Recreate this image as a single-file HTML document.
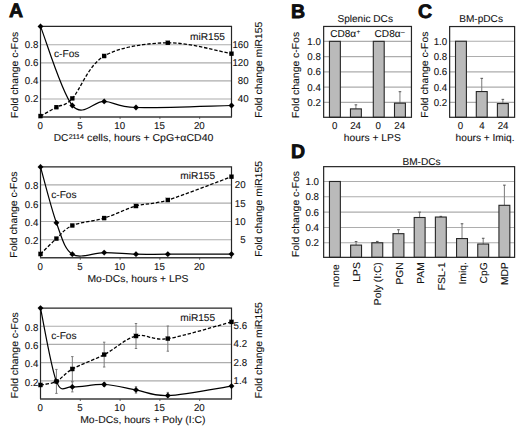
<!DOCTYPE html>
<html><head><meta charset="utf-8"><style>html,body{margin:0;padding:0;background:#fff;width:520px;height:430px;overflow:hidden;}svg{display:block;}</style></head><body>
<svg width="520" height="430" viewBox="0 0 520 430">
<rect width="520" height="430" fill="#fff"/>
<g font-family="'Liberation Sans', sans-serif" text-rendering="geometricPrecision" fill="#111" stroke="#111" stroke-width="0.1">
<text x="8.9" y="17.2" font-size="19.5" text-anchor="start" font-weight="bold" stroke="#000" stroke-width="0.75">A</text>
<text x="290.9" y="18.3" font-size="19.5" text-anchor="start" font-weight="bold" stroke="#000" stroke-width="0.75">B</text>
<text x="417.9" y="18.3" font-size="19.5" text-anchor="start" font-weight="bold" stroke="#000" stroke-width="0.75">C</text>
<text x="290.9" y="158.3" font-size="19.5" text-anchor="start" font-weight="bold" stroke="#000" stroke-width="0.75">D</text>
<line x1="40.5" y1="44.77" x2="231.5" y2="44.77" stroke="#5a5a5a" stroke-width="1.1" stroke-dasharray="1 1"/>
<line x1="40.5" y1="62.84" x2="231.5" y2="62.84" stroke="#5a5a5a" stroke-width="1.1" stroke-dasharray="1 1"/>
<line x1="40.5" y1="80.91" x2="231.5" y2="80.91" stroke="#5a5a5a" stroke-width="1.1" stroke-dasharray="1 1"/>
<line x1="40.5" y1="98.98" x2="231.5" y2="98.98" stroke="#5a5a5a" stroke-width="1.1" stroke-dasharray="1 1"/>
<path d="M40.5 116.9V26.4H231.5V116.9" fill="none" stroke="#262626" stroke-width="1.2"/>
<line x1="40" y1="116.9" x2="232" y2="116.9" stroke="#3a3a3a" stroke-width="1.5"/>
<line x1="80.29" y1="116.9" x2="80.29" y2="118.9" stroke="#3a3a3a" stroke-width="0.8"/>
<line x1="120.08" y1="116.9" x2="120.08" y2="118.9" stroke="#3a3a3a" stroke-width="0.8"/>
<line x1="159.88" y1="116.9" x2="159.88" y2="118.9" stroke="#3a3a3a" stroke-width="0.8"/>
<line x1="199.67" y1="116.9" x2="199.67" y2="118.9" stroke="#3a3a3a" stroke-width="0.8"/>
<text x="40.1" y="129" font-size="10" text-anchor="middle" textLength="5.39" lengthAdjust="spacingAndGlyphs">0</text>
<text x="79.89" y="129" font-size="10" text-anchor="middle" textLength="5.39" lengthAdjust="spacingAndGlyphs">5</text>
<text x="119.68" y="129" font-size="10" text-anchor="middle" textLength="10.79" lengthAdjust="spacingAndGlyphs">10</text>
<text x="159.47" y="129" font-size="10" text-anchor="middle" textLength="10.79" lengthAdjust="spacingAndGlyphs">15</text>
<text x="199.27" y="129" font-size="10" text-anchor="middle" textLength="10.79" lengthAdjust="spacingAndGlyphs">20</text>
<text x="38.3" y="48.17" font-size="10" text-anchor="end" textLength="13.48" lengthAdjust="spacingAndGlyphs">0.8</text>
<text x="38.3" y="66.24" font-size="10" text-anchor="end" textLength="13.48" lengthAdjust="spacingAndGlyphs">0.6</text>
<text x="38.3" y="84.31" font-size="10" text-anchor="end" textLength="13.48" lengthAdjust="spacingAndGlyphs">0.4</text>
<text x="38.3" y="102.38" font-size="10" text-anchor="end" textLength="13.48" lengthAdjust="spacingAndGlyphs">0.2</text>
<text x="248.6" y="48.17" font-size="10" text-anchor="end" textLength="16.18" lengthAdjust="spacingAndGlyphs">160</text>
<text x="248.6" y="66.24" font-size="10" text-anchor="end" textLength="16.18" lengthAdjust="spacingAndGlyphs">120</text>
<text x="248.6" y="84.31" font-size="10" text-anchor="end" textLength="10.79" lengthAdjust="spacingAndGlyphs">80</text>
<text x="248.6" y="102.38" font-size="10" text-anchor="end" textLength="10.79" lengthAdjust="spacingAndGlyphs">40</text>
<text x="17.6" y="74.9" font-size="10" text-anchor="middle" textLength="86.13" lengthAdjust="spacingAndGlyphs" transform="rotate(-90 17.6 74.9)">Fold change c-Fos</text>
<text x="261.6" y="69.65" font-size="10" text-anchor="middle" textLength="95.97" lengthAdjust="spacingAndGlyphs" transform="rotate(-90 261.6 69.65)">Fold change miR155</text>
<text x="53.8" y="141.1" font-size="10" textLength="14.66" lengthAdjust="spacingAndGlyphs">DC</text><text x="68.7" y="138.7" font-size="6.8" textLength="15.2" lengthAdjust="spacingAndGlyphs">2114</text><text x="84.2" y="141.1" font-size="10" textLength="129.2" lengthAdjust="spacingAndGlyphs" xml:space="preserve"> cells, hours + CpG+&#945;CD40</text>
<path d="M40.5 26.4 C45.81 39.58 61.72 93 72.33 105.5 C82.94 118 93.56 101.07 104.17 101.4 C114.78 101.73 114.78 106.82 136 107.5 C157.22 108.18 215.58 105.83 231.5 105.5" fill="none" stroke="#000" stroke-width="1.2"/>
<path d="M40.5 116.1 C43.15 114.62 51.11 110.15 56.42 107.2 C61.72 104.25 64.38 106.93 72.33 98.4 C80.29 89.87 88.25 65.27 104.17 56 C120.08 46.73 146.61 43.18 167.83 42.8 C189.06 42.42 220.89 51.88 231.5 53.7" fill="none" stroke="#000" stroke-width="1.3" stroke-dasharray="3.4 1.8"/>
<path d="M40.5 23.5l2.9 2.9l-2.9 2.9l-2.9 -2.9z" fill="#000"/>
<path d="M72.33 102.6l2.9 2.9l-2.9 2.9l-2.9 -2.9z" fill="#000"/>
<path d="M104.17 98.5l2.9 2.9l-2.9 2.9l-2.9 -2.9z" fill="#000"/>
<path d="M136 104.6l2.9 2.9l-2.9 2.9l-2.9 -2.9z" fill="#000"/>
<path d="M231.5 102.6l2.9 2.9l-2.9 2.9l-2.9 -2.9z" fill="#000"/>
<rect x="38.35" y="113.95" width="4.3" height="4.3" fill="#000"/>
<rect x="54.27" y="105.05" width="4.3" height="4.3" fill="#000"/>
<rect x="70.18" y="96.25" width="4.3" height="4.3" fill="#000"/>
<rect x="102.02" y="53.85" width="4.3" height="4.3" fill="#000"/>
<rect x="165.68" y="40.65" width="4.3" height="4.3" fill="#000"/>
<rect x="229.35" y="51.55" width="4.3" height="4.3" fill="#000"/>
<text x="54" y="57" font-size="10" text-anchor="start" textLength="25.38" lengthAdjust="spacingAndGlyphs">c-Fos</text>
<text x="190" y="39.6" font-size="10" text-anchor="start" textLength="34.98" lengthAdjust="spacingAndGlyphs">miR155</text>
<line x1="40.5" y1="184.88" x2="231.5" y2="184.88" stroke="#5a5a5a" stroke-width="1.1" stroke-dasharray="1 1"/>
<line x1="40.5" y1="203.16" x2="231.5" y2="203.16" stroke="#5a5a5a" stroke-width="1.1" stroke-dasharray="1 1"/>
<line x1="40.5" y1="221.44" x2="231.5" y2="221.44" stroke="#5a5a5a" stroke-width="1.1" stroke-dasharray="1 1"/>
<line x1="40.5" y1="239.72" x2="231.5" y2="239.72" stroke="#5a5a5a" stroke-width="1.1" stroke-dasharray="1 1"/>
<path d="M40.5 257.8V166.9H231.5V257.8" fill="none" stroke="#262626" stroke-width="1.2"/>
<line x1="40" y1="257.8" x2="232" y2="257.8" stroke="#3a3a3a" stroke-width="1.5"/>
<line x1="80.29" y1="257.8" x2="80.29" y2="259.8" stroke="#3a3a3a" stroke-width="0.8"/>
<line x1="120.08" y1="257.8" x2="120.08" y2="259.8" stroke="#3a3a3a" stroke-width="0.8"/>
<line x1="159.88" y1="257.8" x2="159.88" y2="259.8" stroke="#3a3a3a" stroke-width="0.8"/>
<line x1="199.67" y1="257.8" x2="199.67" y2="259.8" stroke="#3a3a3a" stroke-width="0.8"/>
<text x="40.1" y="269.7" font-size="10" text-anchor="middle" textLength="5.39" lengthAdjust="spacingAndGlyphs">0</text>
<text x="79.89" y="269.7" font-size="10" text-anchor="middle" textLength="5.39" lengthAdjust="spacingAndGlyphs">5</text>
<text x="119.68" y="269.7" font-size="10" text-anchor="middle" textLength="10.79" lengthAdjust="spacingAndGlyphs">10</text>
<text x="159.47" y="269.7" font-size="10" text-anchor="middle" textLength="10.79" lengthAdjust="spacingAndGlyphs">15</text>
<text x="199.27" y="269.7" font-size="10" text-anchor="middle" textLength="10.79" lengthAdjust="spacingAndGlyphs">20</text>
<text x="38.3" y="189.28" font-size="10" text-anchor="end" textLength="13.48" lengthAdjust="spacingAndGlyphs">0.8</text>
<text x="38.3" y="207.56" font-size="10" text-anchor="end" textLength="13.48" lengthAdjust="spacingAndGlyphs">0.6</text>
<text x="38.3" y="225.84" font-size="10" text-anchor="end" textLength="13.48" lengthAdjust="spacingAndGlyphs">0.4</text>
<text x="38.3" y="244.12" font-size="10" text-anchor="end" textLength="13.48" lengthAdjust="spacingAndGlyphs">0.2</text>
<text x="245.6" y="188.28" font-size="10" text-anchor="end" textLength="10.79" lengthAdjust="spacingAndGlyphs">20</text>
<text x="245.6" y="206.56" font-size="10" text-anchor="end" textLength="10.79" lengthAdjust="spacingAndGlyphs">15</text>
<text x="245.6" y="224.84" font-size="10" text-anchor="end" textLength="10.79" lengthAdjust="spacingAndGlyphs">10</text>
<text x="245.6" y="243.12" font-size="10" text-anchor="end" textLength="5.39" lengthAdjust="spacingAndGlyphs">5</text>
<text x="17.5" y="214.65" font-size="10" text-anchor="middle" textLength="86.13" lengthAdjust="spacingAndGlyphs" transform="rotate(-90 17.5 214.65)">Fold change c-Fos</text>
<text x="261.6" y="208.85" font-size="10" text-anchor="middle" textLength="95.97" lengthAdjust="spacingAndGlyphs" transform="rotate(-90 261.6 208.85)">Fold change miR155</text>
<text x="87.5" y="282.1" font-size="10" textLength="101" lengthAdjust="spacingAndGlyphs">Mo-DCs, hours + LPS</text>
<path d="M40.5 166.9 C43.15 176.22 51.11 208.25 56.42 222.8 C61.72 237.35 64.38 249.23 72.33 254.2 C80.29 259.17 93.56 252.6 104.17 252.6 C114.78 252.6 125.39 253.93 136 254.2 C146.61 254.47 151.92 254.22 167.83 254.2 C183.75 254.18 220.89 254.12 231.5 254.1" fill="none" stroke="#000" stroke-width="1.2"/>
<path d="M40.5 254 C43.15 251.43 51.11 243.35 56.42 238.6 C61.72 233.85 64.38 228.92 72.33 225.5 C80.29 222.08 93.56 221.35 104.17 218.1 C114.78 214.85 125.39 209.02 136 206 C146.61 202.98 151.92 204.88 167.83 200 C183.75 195.12 220.89 180.58 231.5 176.7" fill="none" stroke="#000" stroke-width="1.3" stroke-dasharray="3.4 1.8"/>
<path d="M40.5 164l2.9 2.9l-2.9 2.9l-2.9 -2.9z" fill="#000"/>
<path d="M56.42 219.9l2.9 2.9l-2.9 2.9l-2.9 -2.9z" fill="#000"/>
<path d="M72.33 251.3l2.9 2.9l-2.9 2.9l-2.9 -2.9z" fill="#000"/>
<path d="M104.17 249.7l2.9 2.9l-2.9 2.9l-2.9 -2.9z" fill="#000"/>
<path d="M136 251.3l2.9 2.9l-2.9 2.9l-2.9 -2.9z" fill="#000"/>
<path d="M167.83 251.3l2.9 2.9l-2.9 2.9l-2.9 -2.9z" fill="#000"/>
<path d="M231.5 251.2l2.9 2.9l-2.9 2.9l-2.9 -2.9z" fill="#000"/>
<rect x="38.35" y="251.85" width="4.3" height="4.3" fill="#000"/>
<rect x="54.27" y="236.45" width="4.3" height="4.3" fill="#000"/>
<rect x="70.18" y="223.35" width="4.3" height="4.3" fill="#000"/>
<rect x="102.02" y="215.95" width="4.3" height="4.3" fill="#000"/>
<rect x="133.85" y="203.85" width="4.3" height="4.3" fill="#000"/>
<rect x="165.68" y="197.85" width="4.3" height="4.3" fill="#000"/>
<rect x="229.35" y="174.55" width="4.3" height="4.3" fill="#000"/>
<text x="51.2" y="197.6" font-size="10" text-anchor="start" textLength="25.38" lengthAdjust="spacingAndGlyphs">c-Fos</text>
<text x="180.2" y="179.2" font-size="10" text-anchor="start" textLength="34.98" lengthAdjust="spacingAndGlyphs">miR155</text>
<line x1="40.5" y1="326.2" x2="231.5" y2="326.2" stroke="#5a5a5a" stroke-width="1.1" stroke-dasharray="1 1"/>
<line x1="40.5" y1="344.42" x2="231.5" y2="344.42" stroke="#5a5a5a" stroke-width="1.1" stroke-dasharray="1 1"/>
<line x1="40.5" y1="362.64" x2="231.5" y2="362.64" stroke="#5a5a5a" stroke-width="1.1" stroke-dasharray="1 1"/>
<line x1="40.5" y1="380.86" x2="231.5" y2="380.86" stroke="#5a5a5a" stroke-width="1.1" stroke-dasharray="1 1"/>
<path d="M40.5 399V308.1H231.5V399" fill="none" stroke="#262626" stroke-width="1.2"/>
<line x1="40" y1="399" x2="232" y2="399" stroke="#3a3a3a" stroke-width="1.5"/>
<line x1="80.29" y1="399" x2="80.29" y2="401" stroke="#3a3a3a" stroke-width="0.8"/>
<line x1="120.08" y1="399" x2="120.08" y2="401" stroke="#3a3a3a" stroke-width="0.8"/>
<line x1="159.88" y1="399" x2="159.88" y2="401" stroke="#3a3a3a" stroke-width="0.8"/>
<line x1="199.67" y1="399" x2="199.67" y2="401" stroke="#3a3a3a" stroke-width="0.8"/>
<text x="40.1" y="410.9" font-size="10" text-anchor="middle" textLength="5.39" lengthAdjust="spacingAndGlyphs">0</text>
<text x="79.89" y="410.9" font-size="10" text-anchor="middle" textLength="5.39" lengthAdjust="spacingAndGlyphs">5</text>
<text x="119.68" y="410.9" font-size="10" text-anchor="middle" textLength="10.79" lengthAdjust="spacingAndGlyphs">10</text>
<text x="159.47" y="410.9" font-size="10" text-anchor="middle" textLength="10.79" lengthAdjust="spacingAndGlyphs">15</text>
<text x="199.27" y="410.9" font-size="10" text-anchor="middle" textLength="10.79" lengthAdjust="spacingAndGlyphs">20</text>
<text x="38.3" y="331" font-size="10" text-anchor="end" textLength="13.48" lengthAdjust="spacingAndGlyphs">0.8</text>
<text x="38.3" y="349.22" font-size="10" text-anchor="end" textLength="13.48" lengthAdjust="spacingAndGlyphs">0.6</text>
<text x="38.3" y="367.44" font-size="10" text-anchor="end" textLength="13.48" lengthAdjust="spacingAndGlyphs">0.4</text>
<text x="38.3" y="385.66" font-size="10" text-anchor="end" textLength="13.48" lengthAdjust="spacingAndGlyphs">0.2</text>
<text x="247.1" y="329.1" font-size="10" text-anchor="end" textLength="13.48" lengthAdjust="spacingAndGlyphs">5.6</text>
<text x="247.1" y="347.32" font-size="10" text-anchor="end" textLength="13.48" lengthAdjust="spacingAndGlyphs">4.2</text>
<text x="247.1" y="365.54" font-size="10" text-anchor="end" textLength="13.48" lengthAdjust="spacingAndGlyphs">2.8</text>
<text x="247.1" y="383.76" font-size="10" text-anchor="end" textLength="13.48" lengthAdjust="spacingAndGlyphs">1.4</text>
<text x="17.6" y="355.25" font-size="10" text-anchor="middle" textLength="86.13" lengthAdjust="spacingAndGlyphs" transform="rotate(-90 17.6 355.25)">Fold change c-Fos</text>
<text x="261.6" y="350.15" font-size="10" text-anchor="middle" textLength="95.97" lengthAdjust="spacingAndGlyphs" transform="rotate(-90 261.6 350.15)">Fold change miR155</text>
<text x="80.2" y="422.6" font-size="10" textLength="125.4" lengthAdjust="spacingAndGlyphs">Mo-DCs, hours + Poly (I:C)</text>
<path d="M56.42 369.4V393.4M55.22 369.4H57.62M55.22 393.4H57.62" stroke="#7a7a7a" stroke-width="1" fill="none"/>
<path d="M72.33 381.9V391.9M71.13 381.9H73.53M71.13 391.9H73.53" stroke="#7a7a7a" stroke-width="1" fill="none"/>
<path d="M104.17 382.5V386.5M102.97 382.5H105.37M102.97 386.5H105.37" stroke="#7a7a7a" stroke-width="1" fill="none"/>
<path d="M136 386.7V393.1M134.8 386.7H137.2M134.8 393.1H137.2" stroke="#7a7a7a" stroke-width="1" fill="none"/>
<path d="M167.83 392.4V398.8M166.63 392.4H169.03M166.63 398.8H169.03" stroke="#7a7a7a" stroke-width="1" fill="none"/>
<path d="M72.33 356.6V381.4M71.13 356.6H73.53M71.13 381.4H73.53" stroke="#7a7a7a" stroke-width="1" fill="none"/>
<path d="M104.17 342.2V367M102.97 342.2H105.37M102.97 367H105.37" stroke="#7a7a7a" stroke-width="1" fill="none"/>
<path d="M136 323.5V348.5M134.8 323.5H137.2M134.8 348.5H137.2" stroke="#7a7a7a" stroke-width="1" fill="none"/>
<path d="M167.83 326V351.2M166.63 326H169.03M166.63 351.2H169.03" stroke="#7a7a7a" stroke-width="1" fill="none"/>
<path d="M40.5 308.1 C43.15 320.32 51.11 368.27 56.42 381.4 C61.72 394.53 64.38 386.38 72.33 386.9 C80.29 387.42 93.56 384 104.17 384.5 C114.78 385 125.39 388.05 136 389.9 C146.61 391.75 151.92 396.23 167.83 395.6 C183.75 394.97 220.89 387.68 231.5 386.1" fill="none" stroke="#000" stroke-width="1.2"/>
<path d="M40.5 385 C43.15 384.4 51.11 384.07 56.42 381.4 C61.72 378.73 64.38 373.47 72.33 369 C80.29 364.53 93.56 360.1 104.17 354.6 C114.78 349.1 125.39 338.67 136 336 C146.61 333.33 151.92 340.95 167.83 338.6 C183.75 336.25 220.89 324.68 231.5 321.9" fill="none" stroke="#000" stroke-width="1.3" stroke-dasharray="3.4 1.8"/>
<path d="M40.5 305.2l2.9 2.9l-2.9 2.9l-2.9 -2.9z" fill="#000"/>
<path d="M56.42 378.5l2.9 2.9l-2.9 2.9l-2.9 -2.9z" fill="#000"/>
<path d="M72.33 384l2.9 2.9l-2.9 2.9l-2.9 -2.9z" fill="#000"/>
<path d="M104.17 381.6l2.9 2.9l-2.9 2.9l-2.9 -2.9z" fill="#000"/>
<path d="M136 387l2.9 2.9l-2.9 2.9l-2.9 -2.9z" fill="#000"/>
<path d="M167.83 392.7l2.9 2.9l-2.9 2.9l-2.9 -2.9z" fill="#000"/>
<path d="M231.5 383.2l2.9 2.9l-2.9 2.9l-2.9 -2.9z" fill="#000"/>
<rect x="38.35" y="382.85" width="4.3" height="4.3" fill="#000"/>
<rect x="54.27" y="379.25" width="4.3" height="4.3" fill="#000"/>
<rect x="70.18" y="366.85" width="4.3" height="4.3" fill="#000"/>
<rect x="102.02" y="352.45" width="4.3" height="4.3" fill="#000"/>
<rect x="133.85" y="333.85" width="4.3" height="4.3" fill="#000"/>
<rect x="165.68" y="336.45" width="4.3" height="4.3" fill="#000"/>
<rect x="229.35" y="319.75" width="4.3" height="4.3" fill="#000"/>
<text x="51.2" y="338.7" font-size="10" text-anchor="start" textLength="25.38" lengthAdjust="spacingAndGlyphs">c-Fos</text>
<text x="180.2" y="320.9" font-size="10" text-anchor="start" textLength="34.98" lengthAdjust="spacingAndGlyphs">miR155</text>
<text x="337.4" y="21.5" font-size="10" text-anchor="start" textLength="55.57" lengthAdjust="spacingAndGlyphs">Splenic DCs</text>
<line x1="323.5" y1="41.35" x2="411.45" y2="41.35" stroke="#5a5a5a" stroke-width="1.1" stroke-dasharray="1 1"/>
<line x1="323.5" y1="56.61" x2="411.45" y2="56.61" stroke="#5a5a5a" stroke-width="1.1" stroke-dasharray="1 1"/>
<line x1="323.5" y1="71.87" x2="411.45" y2="71.87" stroke="#5a5a5a" stroke-width="1.1" stroke-dasharray="1 1"/>
<line x1="323.5" y1="87.13" x2="411.45" y2="87.13" stroke="#5a5a5a" stroke-width="1.1" stroke-dasharray="1 1"/>
<line x1="323.5" y1="102.39" x2="411.45" y2="102.39" stroke="#5a5a5a" stroke-width="1.1" stroke-dasharray="1 1"/>
<rect x="329.46" y="41.35" width="10.9" height="75.95" fill="#bababa" stroke="#262626" stroke-width="1.1"/>
<path d="M355.91 108.88V104.83" stroke="#7a7a7a" stroke-width="1" fill="none"/>
<path d="M354.61 104.83H357.21" stroke="#555" stroke-width="1" fill="none"/>
<rect x="350.46" y="108.88" width="10.9" height="8.42" fill="#bababa" stroke="#262626" stroke-width="1.1"/>
<rect x="373.3" y="41.35" width="10.9" height="75.95" fill="#bababa" stroke="#262626" stroke-width="1.1"/>
<path d="M399.95 103.15V91.71" stroke="#7a7a7a" stroke-width="1" fill="none"/>
<path d="M398.65 91.71H401.25" stroke="#555" stroke-width="1" fill="none"/>
<rect x="394.5" y="103.15" width="10.9" height="14.15" fill="#bababa" stroke="#262626" stroke-width="1.1"/>
<rect x="323.65" y="26.45" width="87.8" height="90.85" fill="none" stroke="#262626" stroke-width="1.2"/>
<text x="320.8" y="44.85" font-size="10" text-anchor="end" textLength="13.48" lengthAdjust="spacingAndGlyphs">1.0</text>
<text x="320.8" y="60.11" font-size="10" text-anchor="end" textLength="13.48" lengthAdjust="spacingAndGlyphs">0.8</text>
<text x="320.8" y="75.37" font-size="10" text-anchor="end" textLength="13.48" lengthAdjust="spacingAndGlyphs">0.6</text>
<text x="320.8" y="90.63" font-size="10" text-anchor="end" textLength="13.48" lengthAdjust="spacingAndGlyphs">0.4</text>
<text x="320.8" y="105.89" font-size="10" text-anchor="end" textLength="13.48" lengthAdjust="spacingAndGlyphs">0.2</text>
<text x="299.3" y="74.95" font-size="10" text-anchor="middle" textLength="86.13" lengthAdjust="spacingAndGlyphs" transform="rotate(-90 299.3 74.95)">Fold change c-Fos</text>
<text x="330.2" y="37.3" font-size="10" textLength="26" lengthAdjust="spacingAndGlyphs">CD8&#945;</text><text x="356.6" y="33.6" font-size="6.5">+</text>
<text x="374.6" y="37.3" font-size="10" textLength="26" lengthAdjust="spacingAndGlyphs">CD8&#945;</text><text x="401.0" y="33.6" font-size="6.5">&#8211;</text>
<text x="334.6" y="128.9" font-size="10" text-anchor="middle" textLength="5.39" lengthAdjust="spacingAndGlyphs">0</text>
<text x="355.6" y="128.9" font-size="10" text-anchor="middle" textLength="10.79" lengthAdjust="spacingAndGlyphs">24</text>
<text x="378.1" y="128.9" font-size="10" text-anchor="middle" textLength="5.39" lengthAdjust="spacingAndGlyphs">0</text>
<text x="399.7" y="128.9" font-size="10" text-anchor="middle" textLength="10.79" lengthAdjust="spacingAndGlyphs">24</text>
<text x="343.8" y="141.2" font-size="10" text-anchor="start" textLength="56.97" lengthAdjust="spacingAndGlyphs">hours + LPS</text>
<text x="459.2" y="21.6" font-size="10" text-anchor="start" textLength="43.77" lengthAdjust="spacingAndGlyphs">BM-pDCs</text>
<line x1="449.5" y1="41.25" x2="514.6" y2="41.25" stroke="#5a5a5a" stroke-width="1.1" stroke-dasharray="1 1"/>
<line x1="449.5" y1="56.54" x2="514.6" y2="56.54" stroke="#5a5a5a" stroke-width="1.1" stroke-dasharray="1 1"/>
<line x1="449.5" y1="71.83" x2="514.6" y2="71.83" stroke="#5a5a5a" stroke-width="1.1" stroke-dasharray="1 1"/>
<line x1="449.5" y1="87.12" x2="514.6" y2="87.12" stroke="#5a5a5a" stroke-width="1.1" stroke-dasharray="1 1"/>
<line x1="449.5" y1="102.41" x2="514.6" y2="102.41" stroke="#5a5a5a" stroke-width="1.1" stroke-dasharray="1 1"/>
<rect x="455.5" y="41.25" width="10.9" height="76.05" fill="#bababa" stroke="#262626" stroke-width="1.1"/>
<path d="M481.75 91.55V78.33" stroke="#7a7a7a" stroke-width="1" fill="none"/>
<path d="M480.45 78.33H483.05" stroke="#555" stroke-width="1" fill="none"/>
<rect x="476.3" y="91.55" width="10.9" height="25.75" fill="#bababa" stroke="#262626" stroke-width="1.1"/>
<path d="M502.85 103.56V99.35" stroke="#7a7a7a" stroke-width="1" fill="none"/>
<path d="M501.55 99.35H504.15" stroke="#555" stroke-width="1" fill="none"/>
<rect x="497.4" y="103.56" width="10.9" height="13.74" fill="#bababa" stroke="#262626" stroke-width="1.1"/>
<rect x="449.65" y="26.55" width="64.95" height="90.75" fill="none" stroke="#262626" stroke-width="1.2"/>
<text x="447.2" y="44.75" font-size="10" text-anchor="end" textLength="13.48" lengthAdjust="spacingAndGlyphs">1.0</text>
<text x="447.2" y="60.04" font-size="10" text-anchor="end" textLength="13.48" lengthAdjust="spacingAndGlyphs">0.8</text>
<text x="447.2" y="75.33" font-size="10" text-anchor="end" textLength="13.48" lengthAdjust="spacingAndGlyphs">0.6</text>
<text x="447.2" y="90.62" font-size="10" text-anchor="end" textLength="13.48" lengthAdjust="spacingAndGlyphs">0.4</text>
<text x="447.2" y="105.91" font-size="10" text-anchor="end" textLength="13.48" lengthAdjust="spacingAndGlyphs">0.2</text>
<text x="427.6" y="74.65" font-size="10" text-anchor="middle" textLength="86.13" lengthAdjust="spacingAndGlyphs" transform="rotate(-90 427.6 74.65)">Fold change c-Fos</text>
<text x="460.4" y="128.8" font-size="10" text-anchor="middle" textLength="5.39" lengthAdjust="spacingAndGlyphs">0</text>
<text x="482" y="128.8" font-size="10" text-anchor="middle" textLength="5.39" lengthAdjust="spacingAndGlyphs">4</text>
<text x="503.1" y="128.8" font-size="10" text-anchor="middle" textLength="10.79" lengthAdjust="spacingAndGlyphs">24</text>
<text x="455.6" y="141.3" font-size="10" text-anchor="start" textLength="58.95" lengthAdjust="spacingAndGlyphs">hours + Imiq.</text>
<text x="402.4" y="164.7" font-size="10" text-anchor="start" textLength="38.15" lengthAdjust="spacingAndGlyphs">BM-DCs</text>
<line x1="323.5" y1="181.47" x2="514.6" y2="181.47" stroke="#5a5a5a" stroke-width="1.1" stroke-dasharray="1 1"/>
<line x1="323.5" y1="196.8" x2="514.6" y2="196.8" stroke="#5a5a5a" stroke-width="1.1" stroke-dasharray="1 1"/>
<line x1="323.5" y1="212.13" x2="514.6" y2="212.13" stroke="#5a5a5a" stroke-width="1.1" stroke-dasharray="1 1"/>
<line x1="323.5" y1="227.46" x2="514.6" y2="227.46" stroke="#5a5a5a" stroke-width="1.1" stroke-dasharray="1 1"/>
<line x1="323.5" y1="242.79" x2="514.6" y2="242.79" stroke="#5a5a5a" stroke-width="1.1" stroke-dasharray="1 1"/>
<rect x="329.46" y="181.47" width="10.9" height="75.88" fill="#bababa" stroke="#262626" stroke-width="1.1"/>
<path d="M356.09 245.09V241.56" stroke="#7a7a7a" stroke-width="1" fill="none"/>
<path d="M354.79 241.56H357.39" stroke="#555" stroke-width="1" fill="none"/>
<rect x="350.64" y="245.09" width="10.9" height="12.26" fill="#bababa" stroke="#262626" stroke-width="1.1"/>
<path d="M377.28 242.79V241.41" stroke="#7a7a7a" stroke-width="1" fill="none"/>
<path d="M375.98 241.41H378.58" stroke="#555" stroke-width="1" fill="none"/>
<rect x="371.83" y="242.79" width="10.9" height="14.56" fill="#bababa" stroke="#262626" stroke-width="1.1"/>
<path d="M398.46 233.67V229.76" stroke="#7a7a7a" stroke-width="1" fill="none"/>
<path d="M397.16 229.76H399.76" stroke="#555" stroke-width="1" fill="none"/>
<rect x="393.01" y="233.67" width="10.9" height="23.68" fill="#bababa" stroke="#262626" stroke-width="1.1"/>
<path d="M419.65 217.5V212.13" stroke="#7a7a7a" stroke-width="1" fill="none"/>
<path d="M418.35 212.13H420.95" stroke="#555" stroke-width="1" fill="none"/>
<rect x="414.2" y="217.5" width="10.9" height="39.85" fill="#bababa" stroke="#262626" stroke-width="1.1"/>
<path d="M440.83 217.04V216.35" stroke="#7a7a7a" stroke-width="1" fill="none"/>
<path d="M439.53 216.35H442.13" stroke="#555" stroke-width="1" fill="none"/>
<rect x="435.38" y="217.04" width="10.9" height="40.31" fill="#bababa" stroke="#262626" stroke-width="1.1"/>
<path d="M462.02 238.57V223.78" stroke="#7a7a7a" stroke-width="1" fill="none"/>
<path d="M460.72 223.78H463.32" stroke="#555" stroke-width="1" fill="none"/>
<rect x="456.57" y="238.57" width="10.9" height="18.78" fill="#bababa" stroke="#262626" stroke-width="1.1"/>
<path d="M483.2 244.02V238.27" stroke="#7a7a7a" stroke-width="1" fill="none"/>
<path d="M481.9 238.27H484.5" stroke="#555" stroke-width="1" fill="none"/>
<rect x="477.75" y="244.02" width="10.9" height="13.33" fill="#bababa" stroke="#262626" stroke-width="1.1"/>
<path d="M504.39 205.31V185.15" stroke="#7a7a7a" stroke-width="1" fill="none"/>
<path d="M503.09 185.15H505.69" stroke="#555" stroke-width="1" fill="none"/>
<rect x="498.94" y="205.31" width="10.9" height="52.04" fill="#bababa" stroke="#262626" stroke-width="1.1"/>
<rect x="323.65" y="166.65" width="190.95" height="90.7" fill="none" stroke="#262626" stroke-width="1.2"/>
<text x="319" y="184.97" font-size="10" text-anchor="end" textLength="13.48" lengthAdjust="spacingAndGlyphs">1.0</text>
<text x="319" y="200.3" font-size="10" text-anchor="end" textLength="13.48" lengthAdjust="spacingAndGlyphs">0.8</text>
<text x="319" y="215.63" font-size="10" text-anchor="end" textLength="13.48" lengthAdjust="spacingAndGlyphs">0.6</text>
<text x="319" y="230.96" font-size="10" text-anchor="end" textLength="13.48" lengthAdjust="spacingAndGlyphs">0.4</text>
<text x="319" y="246.29" font-size="10" text-anchor="end" textLength="13.48" lengthAdjust="spacingAndGlyphs">0.2</text>
<text x="299.3" y="214" font-size="10" text-anchor="middle" textLength="86.13" lengthAdjust="spacingAndGlyphs" transform="rotate(-90 299.3 214)">Fold change c-Fos</text>
<text x="339.01" y="264.3" font-size="10" text-anchor="end" textLength="22.91" lengthAdjust="spacingAndGlyphs" transform="rotate(-90 339.01 264.3)">none</text>
<text x="360.19" y="262.2" font-size="10" text-anchor="end" textLength="19.47" lengthAdjust="spacingAndGlyphs" transform="rotate(-90 360.19 262.2)">LPS</text>
<text x="381.38" y="262.2" font-size="10" text-anchor="end" textLength="42.92" lengthAdjust="spacingAndGlyphs" transform="rotate(-90 381.38 262.2)">Poly (I:C)</text>
<text x="402.56" y="262.2" font-size="10" text-anchor="end" textLength="22.32" lengthAdjust="spacingAndGlyphs" transform="rotate(-90 402.56 262.2)">PGN</text>
<text x="423.75" y="262.2" font-size="10" text-anchor="end" textLength="21.56" lengthAdjust="spacingAndGlyphs" transform="rotate(-90 423.75 262.2)">PAM</text>
<text x="444.94" y="262.2" font-size="10" text-anchor="end" textLength="28.05" lengthAdjust="spacingAndGlyphs" transform="rotate(-90 444.94 262.2)">FSL-1</text>
<text x="466.12" y="262.2" font-size="10" text-anchor="end" textLength="22.32" lengthAdjust="spacingAndGlyphs" transform="rotate(-90 466.12 262.2)">Imiq.</text>
<text x="487.31" y="262.2" font-size="10" text-anchor="end" textLength="21.18" lengthAdjust="spacingAndGlyphs" transform="rotate(-90 487.31 262.2)">CpG</text>
<text x="508.49" y="262.2" font-size="10" text-anchor="end" textLength="22.89" lengthAdjust="spacingAndGlyphs" transform="rotate(-90 508.49 262.2)">MDP</text>
</g></svg>
</body></html>
